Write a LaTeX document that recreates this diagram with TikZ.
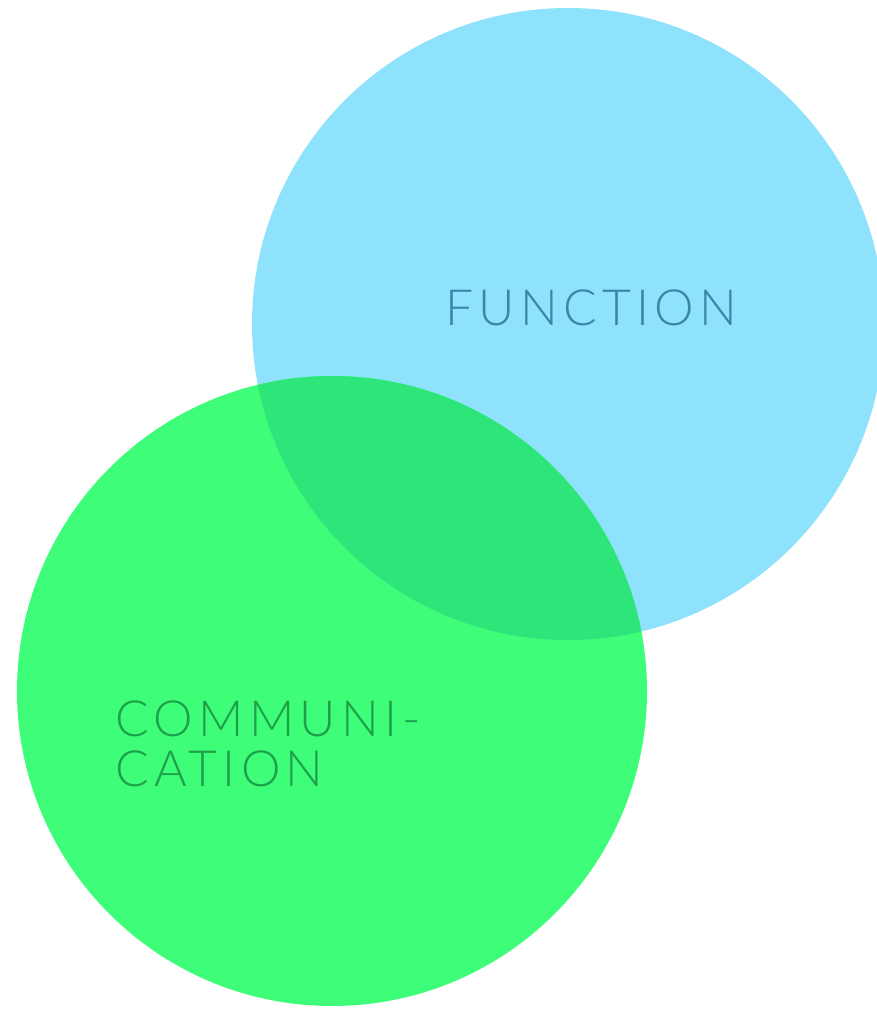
\documentclass[tikz,border=0pt]{standalone}
\usepackage{fontspec}
\setmainfont{Lato}[UprightFont={* Light}, LetterSpace=10.5]
\usetikzlibrary{positioning}
\definecolor{funcblue}{RGB}{142,226,252}
\definecolor{commgreen}{RGB}{62,253,120}
\definecolor{overlapgreen}{RGB}{46,229,122}
\definecolor{functext}{RGB}{58,134,170}
\definecolor{commtext}{RGB}{30,160,74}
\tikzset{
  label text/.style={inner sep=0pt, font=\fontsize{35.5}{35.5}\selectfont}
}
\begin{document}
\begin{tikzpicture}[x=0.025cm, y=0.025cm]
            \newcommand{\funcr}{316}
            \newcommand{\commr}{315}
            \useasboundingbox (0,0) rectangle (877,1009);
            \coordinate (fc) at (568,685);
            \coordinate (cc) at (332,318);
            % the two circles
            \fill[funcblue] (fc) circle (\funcr);
            \fill[commgreen] (cc) circle (\commr);
            \begin{scope}
                \clip (fc) circle (\funcr);
                \fill[overlapgreen] (cc) circle (\commr);
            \end{scope}
            % labels
            \node[label text, text=functext, anchor=base west] (func) at (445,683) {FUNCTION};
            \node[label text, text=commtext, anchor=base west] (comm) at (115,272) {COMMUNI-};
            \node[label text, text=commtext, anchor=base west] (cation) at (115,222) {CATION};
\end{tikzpicture}
\end{document}
